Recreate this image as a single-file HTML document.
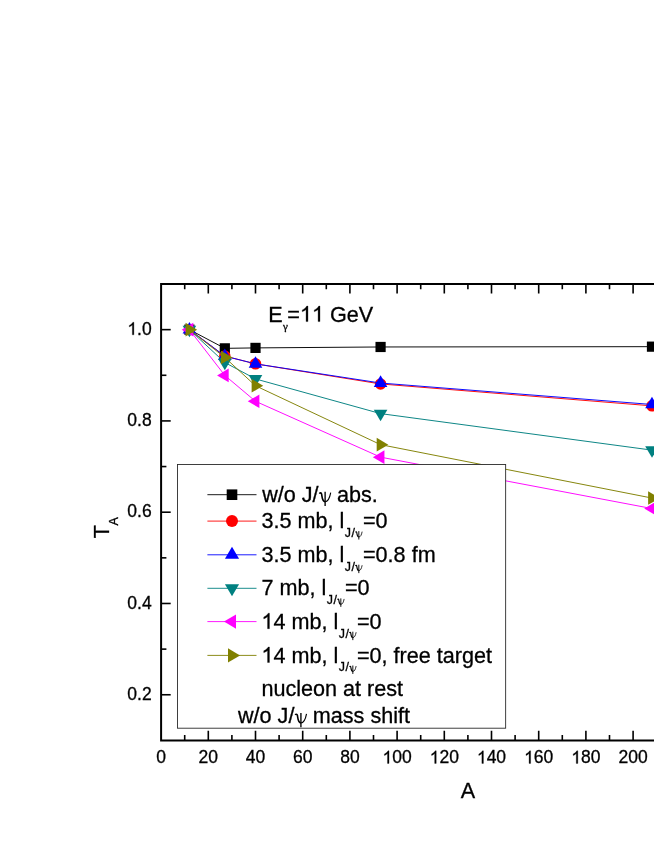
<!DOCTYPE html>
<html><head><meta charset="utf-8"><title>chart</title>
<style>
html,body{margin:0;padding:0;background:#fff;}
body{width:654px;height:846px;overflow:hidden;}
svg{display:block;will-change:transform;}
text{font-family:"Liberation Sans",sans-serif;fill:#000;font-kerning:none;stroke:#000;stroke-width:0.3px;}
.tk{font-size:17.5px;}
.lb{font-size:21.6px;}
.sb{font-size:12.4px;}
.ps{font-family:"Liberation Serif",serif;}
</style></head><body>
<svg width="654" height="846" viewBox="0 0 654 846">

<polyline points="189.42,329.64 224.82,348.35 255.50,347.90 380.58,346.98 651.98,346.66" fill="none" stroke="#000000" stroke-width="0.95"/>
<rect x="184.32" y="324.54" width="10.2" height="10.2" fill="#000000"/>
<rect x="219.72" y="343.25" width="10.2" height="10.2" fill="#000000"/>
<rect x="250.40" y="342.80" width="10.2" height="10.2" fill="#000000"/>
<rect x="375.48" y="341.88" width="10.2" height="10.2" fill="#000000"/>
<rect x="646.88" y="341.56" width="10.2" height="10.2" fill="#000000"/>
<polyline points="189.42,329.64 224.82,356.11 255.50,363.87 380.58,383.95 651.98,405.86" fill="none" stroke="#ff0000" stroke-width="0.95"/>
<circle cx="189.42" cy="329.64" r="5.75" fill="#ff0000"/>
<circle cx="224.82" cy="356.11" r="5.75" fill="#ff0000"/>
<circle cx="255.50" cy="363.87" r="5.75" fill="#ff0000"/>
<circle cx="380.58" cy="383.95" r="5.75" fill="#ff0000"/>
<circle cx="651.98" cy="405.86" r="5.75" fill="#ff0000"/>
<polyline points="189.42,329.64 224.82,356.11 255.50,363.87 380.58,383.04 651.98,404.49" fill="none" stroke="#0000ff" stroke-width="0.95"/>
<polygon points="189.42,321.91 182.62,333.51 196.22,333.51" fill="#0000ff"/>
<polygon points="224.82,348.38 218.02,359.98 231.62,359.98" fill="#0000ff"/>
<polygon points="255.50,356.14 248.70,367.74 262.30,367.74" fill="#0000ff"/>
<polygon points="380.58,375.31 373.78,386.91 387.38,386.91" fill="#0000ff"/>
<polygon points="651.98,396.76 645.18,408.36 658.78,408.36" fill="#0000ff"/>
<polyline points="189.42,329.64 224.82,362.50 255.50,378.93 380.58,413.62 651.98,450.13" fill="none" stroke="#008080" stroke-width="0.95"/>
<polygon points="189.42,337.37 182.62,325.77 196.22,325.77" fill="#008080"/>
<polygon points="224.82,370.23 218.02,358.63 231.62,358.63" fill="#008080"/>
<polygon points="255.50,386.66 248.70,375.06 262.30,375.06" fill="#008080"/>
<polygon points="380.58,421.35 373.78,409.75 387.38,409.75" fill="#008080"/>
<polygon points="651.98,457.86 645.18,446.26 658.78,446.26" fill="#008080"/>
<polyline points="189.42,329.64 224.82,375.42 255.50,401.29 380.58,457.16 651.98,508.55" fill="none" stroke="#ff00ff" stroke-width="0.95"/>
<polygon points="181.69,329.64 193.29,322.84 193.29,336.44" fill="#ff00ff"/>
<polygon points="217.09,375.42 228.69,368.62 228.69,382.22" fill="#ff00ff"/>
<polygon points="247.77,401.29 259.37,394.49 259.37,408.09" fill="#ff00ff"/>
<polygon points="372.85,457.16 384.45,450.36 384.45,463.96" fill="#ff00ff"/>
<polygon points="644.25,508.55 655.85,501.75 655.85,515.35" fill="#ff00ff"/>
<polyline points="189.42,329.64 224.82,357.48 255.50,385.78 380.58,444.65 651.98,498.05" fill="none" stroke="#808000" stroke-width="0.95"/>
<polygon points="197.15,329.64 185.55,322.84 185.55,336.44" fill="#808000"/>
<polygon points="232.55,357.48 220.95,350.68 220.95,364.28" fill="#808000"/>
<polygon points="263.23,385.78 251.63,378.98 251.63,392.58" fill="#808000"/>
<polygon points="388.31,444.65 376.71,437.85 376.71,451.45" fill="#808000"/>
<polygon points="659.71,498.05 648.11,491.25 648.11,504.85" fill="#808000"/>
<g stroke="#000" stroke-width="2" fill="none">
<path d="M654 284 H161.1 V740.4 H654"/>
</g><g stroke="#000" stroke-width="1.6" fill="none">
<path d="M184.70 284 v5.3 M184.70 740.4 v-5.3"/>
<path d="M208.30 284 v9.6 M208.30 740.4 v-9.6"/>
<path d="M231.90 284 v5.3 M231.90 740.4 v-5.3"/>
<path d="M255.50 284 v9.6 M255.50 740.4 v-9.6"/>
<path d="M279.10 284 v5.3 M279.10 740.4 v-5.3"/>
<path d="M302.70 284 v9.6 M302.70 740.4 v-9.6"/>
<path d="M326.30 284 v5.3 M326.30 740.4 v-5.3"/>
<path d="M349.90 284 v9.6 M349.90 740.4 v-9.6"/>
<path d="M373.50 284 v5.3 M373.50 740.4 v-5.3"/>
<path d="M397.10 284 v9.6 M397.10 740.4 v-9.6"/>
<path d="M420.70 284 v5.3 M420.70 740.4 v-5.3"/>
<path d="M444.30 284 v9.6 M444.30 740.4 v-9.6"/>
<path d="M467.90 284 v5.3 M467.90 740.4 v-5.3"/>
<path d="M491.50 284 v9.6 M491.50 740.4 v-9.6"/>
<path d="M515.10 284 v5.3 M515.10 740.4 v-5.3"/>
<path d="M538.70 284 v9.6 M538.70 740.4 v-9.6"/>
<path d="M562.30 284 v5.3 M562.30 740.4 v-5.3"/>
<path d="M585.90 284 v9.6 M585.90 740.4 v-9.6"/>
<path d="M609.50 284 v5.3 M609.50 740.4 v-5.3"/>
<path d="M633.10 284 v9.6 M633.10 740.4 v-9.6"/>
<path d="M656.70 284 v5.3 M656.70 740.4 v-5.3"/>
<path d="M161.1 694.76 h9.6"/>
<path d="M161.1 649.12 h5.3"/>
<path d="M161.1 603.48 h9.6"/>
<path d="M161.1 557.84 h5.3"/>
<path d="M161.1 512.20 h9.6"/>
<path d="M161.1 466.56 h5.3"/>
<path d="M161.1 420.92 h9.6"/>
<path d="M161.1 375.28 h5.3"/>
<path d="M161.1 329.64 h9.6"/>
</g>
<text class="tk" x="156.23" y="763.40">0</text>
<text class="tk" x="198.57" y="763.40">20</text>
<text class="tk" x="245.77" y="763.40">40</text>
<text class="tk" x="292.97" y="763.40">60</text>
<text class="tk" x="340.17" y="763.40">80</text>
<path d="M763,0 L583,0 L583,1147 Q518,1085 412.5,1023 Q307,961 223,930 L223,1104 Q374,1175 487,1276 Q600,1377 647,1472 L763,1472 Z" transform="translate(382.50,763.40) scale(0.008545,-0.008545)" fill="#000" stroke="#000" stroke-width="35.1"/>
<text class="tk" x="392.23" y="763.40">00</text>
<path d="M763,0 L583,0 L583,1147 Q518,1085 412.5,1023 Q307,961 223,930 L223,1104 Q374,1175 487,1276 Q600,1377 647,1472 L763,1472 Z" transform="translate(429.70,763.40) scale(0.008545,-0.008545)" fill="#000" stroke="#000" stroke-width="35.1"/>
<text class="tk" x="439.43" y="763.40">20</text>
<path d="M763,0 L583,0 L583,1147 Q518,1085 412.5,1023 Q307,961 223,930 L223,1104 Q374,1175 487,1276 Q600,1377 647,1472 L763,1472 Z" transform="translate(476.90,763.40) scale(0.008545,-0.008545)" fill="#000" stroke="#000" stroke-width="35.1"/>
<text class="tk" x="486.63" y="763.40">40</text>
<path d="M763,0 L583,0 L583,1147 Q518,1085 412.5,1023 Q307,961 223,930 L223,1104 Q374,1175 487,1276 Q600,1377 647,1472 L763,1472 Z" transform="translate(524.10,763.40) scale(0.008545,-0.008545)" fill="#000" stroke="#000" stroke-width="35.1"/>
<text class="tk" x="533.83" y="763.40">60</text>
<path d="M763,0 L583,0 L583,1147 Q518,1085 412.5,1023 Q307,961 223,930 L223,1104 Q374,1175 487,1276 Q600,1377 647,1472 L763,1472 Z" transform="translate(571.30,763.40) scale(0.008545,-0.008545)" fill="#000" stroke="#000" stroke-width="35.1"/>
<text class="tk" x="581.03" y="763.40">80</text>
<text class="tk" x="618.50" y="763.40">200</text>
<text class="tk" x="127.37" y="699.96">0.2</text>
<text class="tk" x="127.37" y="608.68">0.4</text>
<text class="tk" x="127.37" y="517.40">0.6</text>
<text class="tk" x="127.37" y="426.12">0.8</text>
<path d="M763,0 L583,0 L583,1147 Q518,1085 412.5,1023 Q307,961 223,930 L223,1104 Q374,1175 487,1276 Q600,1377 647,1472 L763,1472 Z" transform="translate(127.37,334.84) scale(0.008545,-0.008545)" fill="#000" stroke="#000" stroke-width="35.1"/>
<text class="tk" x="137.11" y="334.84">.0</text>
<text class="lb" x="468" y="797.7" text-anchor="middle">A</text>
<g transform="translate(109.1,538.3) rotate(-90)"><text class="lb" x="0" y="0">T</text><text class="sb" x="12.8" y="8.9">A</text></g>
<text class="lb" x="268.2" y="321.6">E</text>
<text class="ps" x="283" y="330" font-size="11" stroke="#000" stroke-width="0.35">γ</text>
<text class="lb" x="287.30" y="321.60">=</text>
<path d="M763,0 L583,0 L583,1147 Q518,1085 412.5,1023 Q307,961 223,930 L223,1104 Q374,1175 487,1276 Q600,1377 647,1472 L763,1472 Z" transform="translate(299.91,321.60) scale(0.010547,-0.010547)" fill="#000" stroke="#000" stroke-width="28.4"/>
<path d="M763,0 L583,0 L583,1147 Q518,1085 412.5,1023 Q307,961 223,930 L223,1104 Q374,1175 487,1276 Q600,1377 647,1472 L763,1472 Z" transform="translate(311.93,321.60) scale(0.010547,-0.010547)" fill="#000" stroke="#000" stroke-width="28.4"/>
<text class="lb" x="329.94" y="321.60">GeV</text>
<rect x="177.45" y="464.5" width="328.2" height="263.7" fill="#fff" stroke="#2a2a2a" stroke-width="0.9"/>
<line x1="207.4" y1="494.7" x2="256.5" y2="494.7" stroke="#000000" stroke-width="0.9"/>
<rect x="226.70" y="489.40" width="10.607999999999999" height="10.607999999999999" fill="#000000"/>
<line x1="207.4" y1="521.1" x2="256.5" y2="521.1" stroke="#ff0000" stroke-width="0.9"/>
<circle cx="232.00" cy="521.10" r="5.98" fill="#ff0000"/>
<line x1="207.4" y1="554.8" x2="256.5" y2="554.8" stroke="#0000ff" stroke-width="0.9"/>
<polygon points="232.00,546.76 224.93,558.82 239.07,558.82" fill="#0000ff"/>
<line x1="207.4" y1="588.3" x2="256.5" y2="588.3" stroke="#008080" stroke-width="0.9"/>
<polygon points="232.00,596.34 224.93,584.28 239.07,584.28" fill="#008080"/>
<line x1="207.4" y1="621.6" x2="256.5" y2="621.6" stroke="#ff00ff" stroke-width="0.9"/>
<polygon points="223.96,621.60 236.02,614.53 236.02,628.67" fill="#ff00ff"/>
<line x1="207.4" y1="655.4" x2="256.5" y2="655.4" stroke="#808000" stroke-width="0.9"/>
<polygon points="240.04,655.40 227.98,648.33 227.98,662.47" fill="#808000"/>
<text class="lb" x="262.2" y="501.7">w/o J/</text>
<g transform="translate(318.62,501.70) scale(1.0)" fill="none" stroke="#000" stroke-linecap="butt"><path d="M0.9,-7.9 C1.3,-9 2.7,-9.3 3.0,-7.6 C3.6,-4 3.6,-0.2 6.5,0" stroke-width="1.60"/><path d="M6.5,0 C9.4,0 11,-3.5 12.1,-9.1" stroke-width="1.15"/><path d="M6.5,-10 V4.3" stroke-width="1.35"/></g>
<text class="lb" x="337.02" y="501.7">abs.</text>
<text class="lb" x="261.40" y="528.10">3.5 mb, l</text>
<text class="sb" x="344.8" y="536.9" letter-spacing="0.4">J/</text>
<g transform="translate(355.00,537.00) scale(0.59)" fill="none" stroke="#000" stroke-linecap="butt"><path d="M0.9,-7.9 C1.3,-9 2.7,-9.3 3.0,-7.6 C3.6,-4 3.6,-0.2 6.5,0" stroke-width="1.92"/><path d="M6.5,0 C9.4,0 11,-3.5 12.1,-9.1" stroke-width="1.38"/><path d="M6.5,-10 V4.3" stroke-width="1.62"/></g>
<text class="lb" x="363.0" y="528.1">=0</text>
<text class="lb" x="261.40" y="561.70">3.5 mb, l</text>
<text class="sb" x="344.8" y="570.5" letter-spacing="0.4">J/</text>
<g transform="translate(355.00,570.60) scale(0.59)" fill="none" stroke="#000" stroke-linecap="butt"><path d="M0.9,-7.9 C1.3,-9 2.7,-9.3 3.0,-7.6 C3.6,-4 3.6,-0.2 6.5,0" stroke-width="1.92"/><path d="M6.5,0 C9.4,0 11,-3.5 12.1,-9.1" stroke-width="1.38"/><path d="M6.5,-10 V4.3" stroke-width="1.62"/></g>
<text class="lb" x="363.0" y="561.7">=0.8 fm</text>
<text class="lb" x="261.40" y="595.40">7 mb, l</text>
<text class="sb" x="326.8" y="604.1999999999999" letter-spacing="0.4">J/</text>
<g transform="translate(337.00,604.30) scale(0.59)" fill="none" stroke="#000" stroke-linecap="butt"><path d="M0.9,-7.9 C1.3,-9 2.7,-9.3 3.0,-7.6 C3.6,-4 3.6,-0.2 6.5,0" stroke-width="1.92"/><path d="M6.5,0 C9.4,0 11,-3.5 12.1,-9.1" stroke-width="1.38"/><path d="M6.5,-10 V4.3" stroke-width="1.62"/></g>
<text class="lb" x="345.0" y="595.4">=0</text>
<path d="M763,0 L583,0 L583,1147 Q518,1085 412.5,1023 Q307,961 223,930 L223,1104 Q374,1175 487,1276 Q600,1377 647,1472 L763,1472 Z" transform="translate(261.40,628.70) scale(0.010547,-0.010547)" fill="#000" stroke="#000" stroke-width="28.4"/>
<text class="lb" x="273.41" y="628.70">4 mb, l</text>
<text class="sb" x="338.8" y="637.5" letter-spacing="0.4">J/</text>
<g transform="translate(349.00,637.60) scale(0.59)" fill="none" stroke="#000" stroke-linecap="butt"><path d="M0.9,-7.9 C1.3,-9 2.7,-9.3 3.0,-7.6 C3.6,-4 3.6,-0.2 6.5,0" stroke-width="1.92"/><path d="M6.5,0 C9.4,0 11,-3.5 12.1,-9.1" stroke-width="1.38"/><path d="M6.5,-10 V4.3" stroke-width="1.62"/></g>
<text class="lb" x="357.0" y="628.7">=0</text>
<path d="M763,0 L583,0 L583,1147 Q518,1085 412.5,1023 Q307,961 223,930 L223,1104 Q374,1175 487,1276 Q600,1377 647,1472 L763,1472 Z" transform="translate(261.40,662.50) scale(0.010547,-0.010547)" fill="#000" stroke="#000" stroke-width="28.4"/>
<text class="lb" x="273.41" y="662.50">4 mb, l</text>
<text class="sb" x="338.8" y="671.3" letter-spacing="0.4">J/</text>
<g transform="translate(349.00,671.40) scale(0.59)" fill="none" stroke="#000" stroke-linecap="butt"><path d="M0.9,-7.9 C1.3,-9 2.7,-9.3 3.0,-7.6 C3.6,-4 3.6,-0.2 6.5,0" stroke-width="1.92"/><path d="M6.5,0 C9.4,0 11,-3.5 12.1,-9.1" stroke-width="1.38"/><path d="M6.5,-10 V4.3" stroke-width="1.62"/></g>
<text class="lb" x="357.0" y="662.5">=0, free target</text>
<text class="lb" x="261.4" y="696.3">nucleon at rest</text>
<text class="lb" x="238" y="723.0">w/o J/</text>
<g transform="translate(294.42,723.00) scale(1.0)" fill="none" stroke="#000" stroke-linecap="butt"><path d="M0.9,-7.9 C1.3,-9 2.7,-9.3 3.0,-7.6 C3.6,-4 3.6,-0.2 6.5,0" stroke-width="1.60"/><path d="M6.5,0 C9.4,0 11,-3.5 12.1,-9.1" stroke-width="1.15"/><path d="M6.5,-10 V4.3" stroke-width="1.35"/></g>
<text class="lb" x="312.82" y="723.0">mass shift</text>
</svg></body></html>
